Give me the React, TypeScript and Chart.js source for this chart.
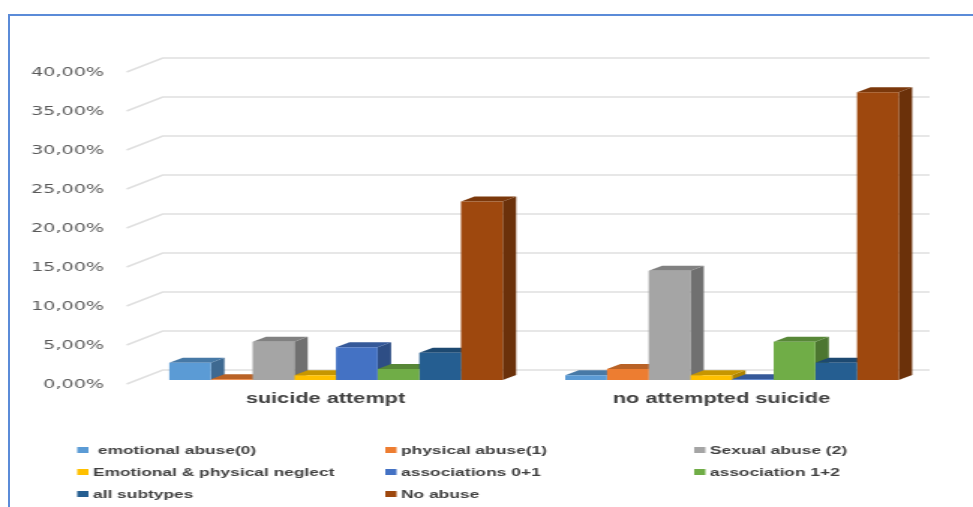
import React, { useEffect, useRef } from "react";
import { Chart, registerables } from "chart.js";

Chart.register(...registerables);

const categories = ["suicide attempt", "no attempted suicide"];
const seriesNames = [
  " emotional abuse(0)",
  "physical abuse(1)",
  "Sexual abuse (2)",
  "Emotional & physical neglect",
  "associations 0+1",
  "association 1+2",
  "all subtypes",
  "No abuse",
];
const emotionalAbuse = [2.2, 0.6];
const physicalAbuse = [0.1, 1.4];
const sexualAbuse = [4.9, 14];
const neglect = [0.6, 0.6];
const associations01 = [4.2, 0.1];
const associations12 = [1.4, 4.9];
const allSubtypes = [3.5, 2.2];
const noAbuse = [22.9, 36.9];
const seriesValues = [
  emotionalAbuse,
  physicalAbuse,
  sexualAbuse,
  neglect,
  associations01,
  associations12,
  allSubtypes,
  noAbuse,
];
const seriesColors = ["#5B9BD5", "#ED7D31", "#A5A5A5", "#FFC000", "#4472C4", "#70AD47", "#255E91", "#9E480E"];

// The canvas is laid out narrow and widened by CSS, which gives the wide lettering.
const CANVAS_W = 649;
const CANVAS_H = 507;
const STRETCH = 973 / CANVAS_W;
const DEPTH_X = 9;
const DEPTH_Y = 5;
const TEXT_COLOR = "#404040";

function shade(hex: string, factor: number) {
  const n = parseInt(hex.slice(1), 16);
  const c = [(n >> 16) & 255, (n >> 8) & 255, n & 255].map((v) => Math.round(v * factor));
  return `rgb(${c[0]},${c[1]},${c[2]})`;
}

// Perspective wall lines plus the side and top faces of each bar.
const depthPlugin = {
  id: "depth",
  beforeDatasetsDraw(chart: any) {
    const { ctx, scales } = chart;
    const y = scales.y;
    const wallLeft = 108.5;
    const frontLeft = 84.5;
    const wallRight = 620;
    ctx.save();
    ctx.strokeStyle = "#e0e0e0";
    ctx.lineWidth = 1.6;
    y.ticks.forEach((t: any) => {
      const p = y.getPixelForValue(t.value);
      ctx.beginPath();
      ctx.moveTo(frontLeft, p + 4);
      ctx.lineTo(wallLeft, p - 10);
      ctx.lineTo(wallRight, p - 10);
      ctx.stroke();
    });
    for (let cat = 0; cat < categories.length; cat++) {
      chart.data.datasets.forEach((ds: any, i: number) => {
        const bar = chart.getDatasetMeta(i).data[cat];
        const x1 = bar.x + bar.width / 2;
        const x0 = bar.x - bar.width / 2;
        const top = bar.y;
        const base = bar.base;
        ctx.fillStyle = shade(ds.backgroundColor, 0.68);
        ctx.beginPath();
        ctx.moveTo(x1, base);
        ctx.lineTo(x1 + DEPTH_X, base - DEPTH_Y);
        ctx.lineTo(x1 + DEPTH_X, top - DEPTH_Y);
        ctx.lineTo(x1, top);
        ctx.closePath();
        ctx.fill();
        ctx.fillStyle = shade(ds.backgroundColor, 0.78);
        ctx.beginPath();
        ctx.moveTo(x0, top);
        ctx.lineTo(x0 + DEPTH_X, top - DEPTH_Y);
        ctx.lineTo(x1 + DEPTH_X, top - DEPTH_Y);
        ctx.lineTo(x1, top);
        ctx.closePath();
        ctx.fill();
      });
    }
    ctx.restore();
  },
};

// Three-column legend under the plot.
const gridLegendPlugin = {
  id: "gridLegend",
  afterDraw(chart: any) {
    const { ctx } = chart;
    const columns = [51.5, 257, 463];
    const rows = [450, 472, 494];
    ctx.save();
    ctx.font = "bold 11.6px 'Liberation Sans'";
    ctx.textBaseline = "middle";
    ctx.textAlign = "left";
    chart.data.datasets.forEach((ds: any, i: number) => {
      const x = columns[i % 3];
      const y = rows[Math.floor(i / 3)];
      ctx.fillStyle = ds.backgroundColor;
      ctx.fillRect(x, y - 3, 7.5, 6);
      ctx.fillStyle = TEXT_COLOR;
      ctx.fillText(ds.label, x + 10.5, y + 0.5);
    });
    ctx.restore();
  },
};

export default function App() {
  const ref = useRef<HTMLCanvasElement>(null);

  useEffect(() => {
    const chart = new Chart(ref.current!, {
      type: "bar",
      data: {
        labels: categories,
        datasets: seriesNames.map((label, i) => ({
          label,
          data: seriesValues[i],
          backgroundColor: seriesColors[i],
          borderWidth: 0,
          barPercentage: 1,
          categoryPercentage: 0.842,
        })),
      },
      options: {
        animation: false,
        responsive: false,
        layout: { padding: { top: 68, right: 28.7, left: 0, bottom: 0 } },
        plugins: { legend: { display: false }, tooltip: { enabled: false } },
        scales: {
          x: {
            grid: { display: false },
            border: { display: false },
            afterFit(s: any) {
              s.height = CANVAS_H - 380;
            },
            ticks: {
              color: TEXT_COLOR,
              padding: 2,
              labelOffset: -7,
              maxRotation: 0,
              font: { family: "'Liberation Sans'", weight: "bold", size: 14.5 },
            },
          },
          y: {
            min: 0,
            max: 40,
            grid: { display: false },
            border: { display: false },
            afterFit(s: any) {
              s.width = 92;
            },
            ticks: {
              stepSize: 5,
              color: "#595959",
              padding: 14.5,
              labelOffset: 5,
              font: { family: "'DejaVu Sans'", size: 12.8 },
              callback: (v: any) => Number(v).toFixed(2).replace(".", ",") + "%",
            },
          },
        },
      },
      plugins: [depthPlugin, gridLegendPlugin],
    } as any);
    return () => chart.destroy();
  }, []);

  return (
    <div style={{ position: "absolute", left: 0, top: 0, width: 973, height: 507, overflow: "hidden", background: "#fff" }}>
      <canvas
        ref={ref}
        width={CANVAS_W}
        height={CANVAS_H}
        style={{ position: "absolute", left: 0, top: 0, transform: `scaleX(${STRETCH})`, transformOrigin: "0 0" }}
      />
      <div
        style={{
          position: "absolute",
          left: 8,
          top: 14,
          right: 0,
          bottom: 0,
          borderLeft: "2px solid #5B8BD8",
          borderTop: "2px solid #5B8BD8",
        }}
      />
    </div>
  );
}
